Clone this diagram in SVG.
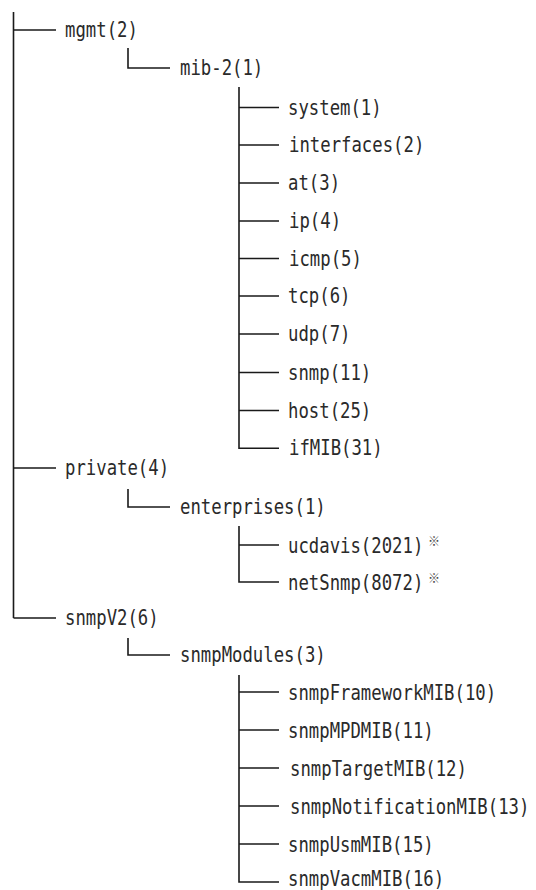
<svg xmlns="http://www.w3.org/2000/svg" width="536" height="890" viewBox="0 0 536 890">
<style>
.bg{fill:#ffffff}
.c path{fill:none;stroke:#1a1a1a;stroke-width:1.6}
.t{font-family:"DejaVu Sans Mono","Liberation Mono",monospace;font-size:17.3px;fill:#2a2a2a}
.m{font-family:"Noto Sans CJK JP","DejaVu Sans",sans-serif;font-size:12px;fill:#444}
</style>
<rect class="bg" x="0" y="0" width="536" height="890"/>
<g id="connectors" class="c">
<path d="M13.5,12 V618 M13.5,30 H56 M13.5,468 H56 M13.5,618 H56"/>
<path d="M128,48 V68 H170"/>
<path d="M239,87 V448.3 H279 M239,107.5 H279 M239,145 H279 M239,183 H279 M239,221 H279 M239,258.5 H279 M239,296 H279 M239,334 H279 M239,372.5 H279 M239,410.5 H279"/>
<path d="M128,489 V507 H170"/>
<path d="M239,526 V582 H279 M239,545 H279"/>
<path d="M128,638 V655 H170"/>
<path d="M239,675 V882 H279 M239,692 H279 M239,730 H279 M239,768 H279 M239,806 H279 M239,844 H279"/>
</g>
<g id="mgmt"><text class="t" transform="translate(65,37) scale(1,1.2)">mgmt(2)</text></g>
<g id="mib-2"><text class="t" transform="translate(180,75) scale(1,1.2)">mib-2(1)</text></g>
<g id="system"><text class="t" transform="translate(288,114.5) scale(1,1.2)">system(1)</text></g>
<g id="interfaces"><text class="t" transform="translate(289,152) scale(1,1.2)">interfaces(2)</text></g>
<g id="at"><text class="t" transform="translate(288,190) scale(1,1.2)">at(3)</text></g>
<g id="ip"><text class="t" transform="translate(289,228) scale(1,1.2)">ip(4)</text></g>
<g id="icmp"><text class="t" transform="translate(289,265.5) scale(1,1.2)">icmp(5)</text></g>
<g id="tcp"><text class="t" transform="translate(288,303) scale(1,1.2)">tcp(6)</text></g>
<g id="udp"><text class="t" transform="translate(288,341) scale(1,1.2)">udp(7)</text></g>
<g id="snmp"><text class="t" transform="translate(288,379.5) scale(1,1.2)">snmp(11)</text></g>
<g id="host"><text class="t" transform="translate(288,417.5) scale(1,1.2)">host(25)</text></g>
<g id="ifMIB"><text class="t" transform="translate(289,455.3) scale(1,1.2)">ifMIB(31)</text></g>
<g id="private"><text class="t" transform="translate(65,475) scale(1,1.2)">private(4)</text></g>
<g id="enterprises"><text class="t" transform="translate(180,514) scale(1,1.2)">enterprises(1)</text></g>
<g id="ucdavis"><text class="t" transform="translate(288,553) scale(1,1.2)">ucdavis(2021)</text><text class="m" x="428" y="546">※</text></g>
<g id="netSnmp"><text class="t" transform="translate(288,590) scale(1,1.2)">netSnmp(8072)</text><text class="m" x="428" y="583">※</text></g>
<g id="snmpV2"><text class="t" transform="translate(65,625) scale(1,1.2)">snmpV2(6)</text></g>
<g id="snmpModules"><text class="t" transform="translate(180,662) scale(1,1.2)">snmpModules(3)</text></g>
<g id="snmpFrameworkMIB"><text class="t" transform="translate(288,700) scale(1,1.2)">snmpFrameworkMIB(10)</text></g>
<g id="snmpMPDMIB"><text class="t" transform="translate(288,738) scale(1,1.2)">snmpMPDMIB(11)</text></g>
<g id="snmpTargetMIB"><text class="t" transform="translate(290,776) scale(1,1.2)">snmpTargetMIB(12)</text></g>
<g id="snmpNotificationMIB"><text class="t" transform="translate(290,814) scale(1,1.2)">snmpNotificationMIB(13)</text></g>
<g id="snmpUsmMIB"><text class="t" transform="translate(288,852) scale(1,1.2)">snmpUsmMIB(15)</text></g>
<g id="snmpVacmMIB"><text class="t" transform="translate(288,886) scale(1,1.2)">snmpVacmMIB(16)</text></g>
</svg>
